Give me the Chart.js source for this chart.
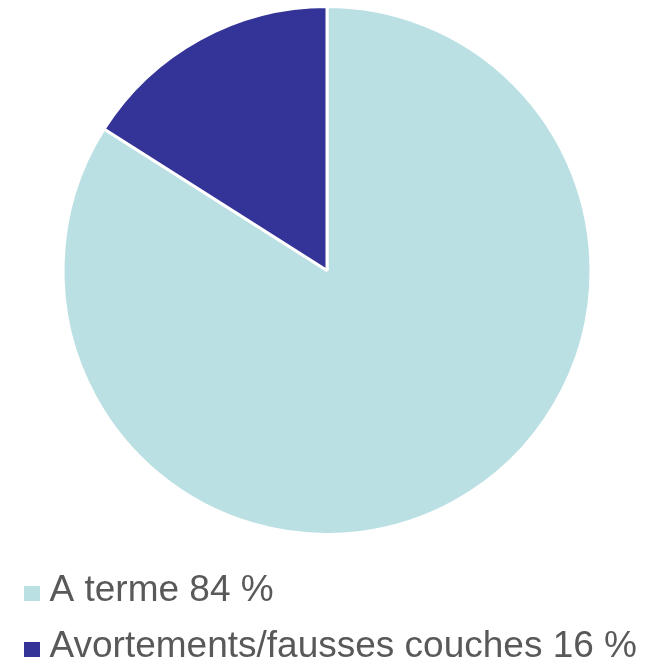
<!DOCTYPE html>
<html>
<head>
<meta charset="utf-8">
<script src="https://cdn.jsdelivr.net/npm/chart.js@4/dist/chart.umd.min.js"></script>
<style>
  html, body { margin: 0; padding: 0; background: #ffffff; overflow: hidden; }
  #wrap { position: relative; width: 650px; height: 664px; }
</style>
</head>
<body>
<div id="wrap"><canvas id="c"></canvas></div>
<script>
const categories = ['A terme 84 %', 'Avortements/fausses couches 16 %'];
const values = [84, 16];
const colors = ['#BAE0E3', '#343397'];

function makeSwatch(color) {
  const c = document.createElement('canvas');
  c.width = 30; c.height = 30;
  const g = c.getContext('2d');
  g.fillStyle = color;
  g.fillRect(12, 10, 16, 15);
  return c;
}
const swatches = colors.map(makeSwatch);

Chart.defaults.font.family = "'Liberation Sans', Arial, sans-serif";

new Chart(document.getElementById('c'), {
  type: 'pie',
  data: {
    labels: categories,
    datasets: [{
      data: values,
      backgroundColor: colors,
      borderColor: '#ffffff',
      borderWidth: 3,
      radius: 264
    }]
  },
  options: {
    responsive: true,
    maintainAspectRatio: false,
    animation: false,
    layout: { padding: { top: 0, bottom: -11.5, left: 4, right: 0 } },
    plugins: {
      tooltip: { enabled: false },
      legend: {
        position: 'bottom',
        align: 'start',
        title: { display: true, text: ' ', font: { size: 10, lineHeight: 1.25 }, padding: 0 },
        labels: {
          color: '#595959',
          font: { size: 37 },
          padding: 19,
          usePointStyle: true,
          pointStyleWidth: 8,
          boxHeight: 15,
          generateLabels(chart) {
            const items = Chart.overrides.pie.plugins.legend.labels.generateLabels(chart);
            items.forEach((it, i) => { it.pointStyle = swatches[i]; it.lineWidth = 0; });
            return items;
          }
        }
      }
    }
  }
});
</script>
</body>
</html>
